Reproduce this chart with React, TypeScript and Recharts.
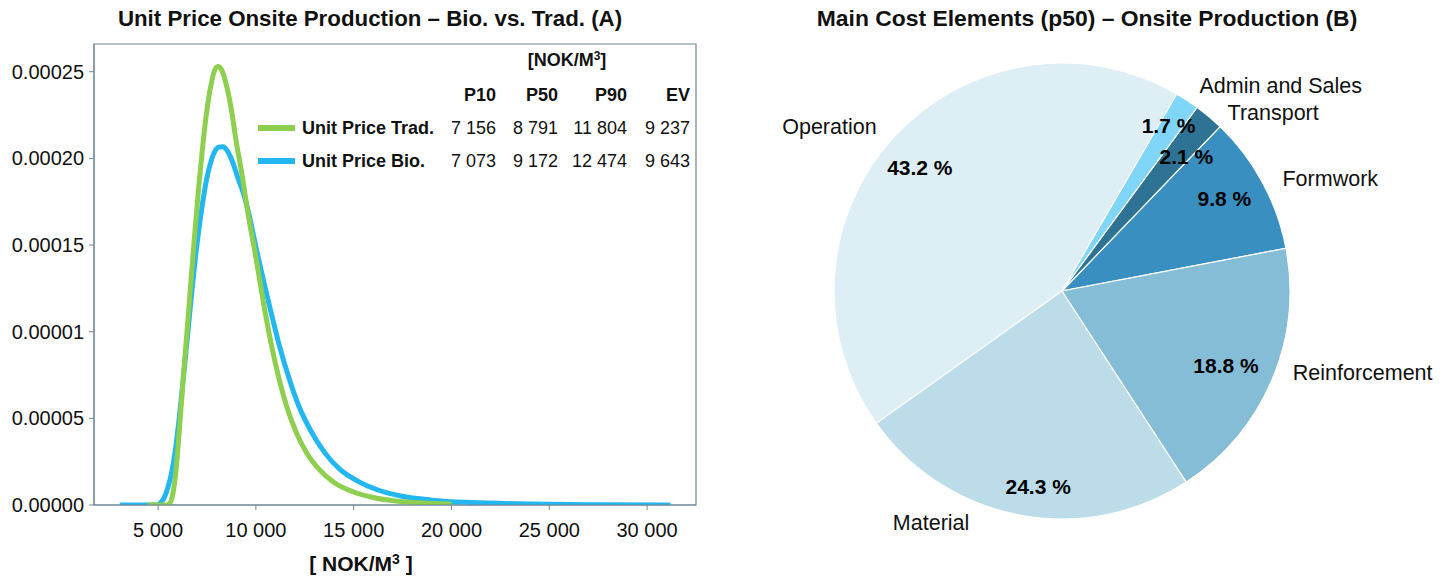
import React from "react";
import {
    LineChart,
    Line,
    XAxis,
    YAxis,
    ReferenceArea,
    PieChart,
    Pie,
    Cell,
} from "recharts";

// density curves
const tradX = [4457, 5400, 5600, 5750, 5900, 6100, 6300, 6500, 6700, 6900, 7100, 7300, 7500, 7700, 7900, 8070, 8250, 8500, 8750, 8977, 9300, 9600, 10000, 10400, 10800, 11200, 11600, 12100, 12600, 13200, 14000, 15000, 16000, 17250, 18500, 20000];
const tradY = [0, 0, 0.000001, 0.000006, 0.000018, 0.000045, 0.000075, 0.000103, 0.000132, 0.00016, 0.000186, 0.000209, 0.000228, 0.000242, 0.000251, 0.000253, 0.000251, 0.000242, 0.000228, 0.000211, 0.00019, 0.000168, 0.000143, 0.000116, 0.000092, 0.000072, 0.000056, 0.000041, 0.00003, 0.000021, 0.000013, 0.0000075, 0.0000043, 0.0000022, 0.0000012, 0.0000006];

const bioX = [3040, 4900, 5100, 5300, 5500, 5700, 5900, 6100, 6300, 6500, 6700, 6900, 7100, 7300, 7500, 7700, 7900, 8100, 8311, 8500, 8700, 8900, 9100, 9300, 9600, 10000, 10400, 10800, 11200, 11700, 12200, 12800, 13500, 14300, 15200, 16200, 17400, 19000, 21000, 24000, 27000, 31192];
const bioY = [0, 0, 0.000001, 0.000004, 0.00001, 0.000019, 0.000033, 0.000052, 0.000074, 0.000097, 0.00012, 0.000142, 0.00016, 0.000176, 0.000189, 0.000198, 0.000204, 0.0002065, 0.0002067, 0.000205, 0.000201, 0.000195, 0.000188, 0.000182, 0.00017, 0.000149, 0.000129, 0.00011, 0.000092, 0.000073, 0.000057, 0.000043, 0.0000305, 0.0000205, 0.0000138, 0.0000088, 0.0000052, 0.0000028, 0.0000014, 0.0000006, 0.0000002, 0];

const xTicks = [5000, 10000, 15000, 20000, 25000, 30000];
const yTicks = [0, 0.00005, 0.0001, 0.00015, 0.0002, 0.00025];
const yTickLabels = ["0.00000", "0.00005", "0.00001", "0.00015", "0.00020", "0.00025"];

const statHeaders = ["P10", "P50", "P90", "EV"];
const tradStats = ["7 156", "8 791", "11 804", "9 237"];
const bioStats = ["7 073", "9 172", "12 474", "9 643"];

// pie slices, counter-clockwise from Formwork
const costNames = ["Formwork", "Transport", "Admin and Sales", "Operation", "Material", "Reinforcement"];
const costShares = [9.8, 2.1, 1.7, 43.2, 24.3, 18.8];
const costColors = ["#388fc0", "#2f7394", "#7fd6f8", "#deeef5", "#bddcea", "#85bdd7"];

const FONT = "'Liberation Sans', Arial, sans-serif";
const FRAME = "#6e8696";

const tradData = tradX.map((x, i) => ({ x, y: tradY[i] }));
const bioData = bioX.map((x, i) => ({ x, y: bioY[i] }));
const pieData = costNames.map((name, i) => ({ name, value: costShares[i] }));

const fmtThousands = (v: number) =>
    String(v).replace(/\B(?=(\d{3})+(?!\d))/g, " ");

// small nudges so labels sit where the original put them
const nameNudge: Record<string, [number, number]> = {
    Operation: [0, 5],
    Material: [-46, -14],
    Reinforcement: [0, -16],
    Formwork: [0, 8],
    Transport: [4, 14],
    "Admin and Sales": [0, 5],
};
const pctNudge: Record<string, [number, number]> = {
    Operation: [-4, 2],
    Material: [11, 12],
    Reinforcement: [-8, 1],
    Formwork: [-2, -3],
    Transport: [4, 9],
    "Admin and Sales": [4, -9],
};

const RAD = Math.PI / 180;

function renderPieLabel(props: any) {
    const { cx, cy, midAngle, outerRadius, name, value } = props;
    const c = Math.cos(-midAngle * RAD);
    const s = Math.sin(-midAngle * RAD);
    const rIn = outerRadius * 0.82;
    const rOut = outerRadius * 1.1;
    const [dx, dy] = nameNudge[name] ?? [0, 0];
    const [px, py] = pctNudge[name] ?? [0, 0];
    return (
        <g>
            <text
                x={cx + rIn * c + px}
                y={cy + rIn * s + py}
                textAnchor="middle"
                dominantBaseline="central"
                fontFamily={FONT}
                fontSize={21}
                fontWeight="bold"
                fill="#000"
            >
                {value.toFixed(1)} %
            </text>
            <text
                x={cx + rOut * c + dx}
                y={cy + rOut * s + dy}
                textAnchor={c >= 0 ? "start" : "end"}
                dominantBaseline="central"
                fontFamily={FONT}
                fontSize={21.5}
                fill="#111"
            >
                {name}
            </text>
        </g>
    );
}

export default function App() {
    const colRight = [496, 558, 627, 690];

    return (
        <div
            style={{
                position: "absolute",
                left: 0,
                top: 0,
                width: 1447,
                height: 578,
                background: "#fff",
                fontFamily: FONT,
            }}
        >
            <div style={{ position: "absolute", left: 0, top: 0 }}>
                <LineChart
                    width={720}
                    height={578}
                    margin={{ top: 44, right: 24, bottom: 0, left: 0 }}
                >
                    <XAxis
                        dataKey="x"
                        type="number"
                        domain={[1725, 32500]}
                        ticks={xTicks}
                        allowDataOverflow
                        height={73}
                        tickSize={5}
                        axisLine={{ stroke: FRAME }}
                        tickLine={{ stroke: FRAME }}
                        tick={{ fill: "#111", fontSize: 20, fontFamily: FONT, dy: 11 }}
                        tickFormatter={(v) => fmtThousands(v)}
                    />
                    <YAxis
                        type="number"
                        domain={[0, 0.000266]}
                        ticks={yTicks}
                        allowDataOverflow
                        width={94}
                        tickSize={5}
                        tickMargin={5}
                        axisLine={{ stroke: FRAME }}
                        tickLine={{ stroke: FRAME }}
                        tick={{ fill: "#111", fontSize: 20, fontFamily: FONT }}
                        tickFormatter={(v) => yTickLabels[yTicks.indexOf(v)] ?? ""}
                    />
                    <ReferenceArea
                        x1={1725}
                        x2={32500}
                        y1={0}
                        y2={0.000266}
                        fill="none"
                        stroke={FRAME}
                        strokeWidth={1.2}
                        ifOverflow="visible"
                    />
                    <Line
                        data={bioData}
                        dataKey="y"
                        type="monotone"
                        stroke="#22b7f0"
                        strokeWidth={5}
                        dot={false}
                        isAnimationActive={false}
                    />
                    <Line
                        data={tradData}
                        dataKey="y"
                        type="monotone"
                        stroke="#8fcf4f"
                        strokeWidth={5}
                        dot={false}
                        isAnimationActive={false}
                    />
                </LineChart>
            </div>

            <div style={{ position: "absolute", left: 720, top: 0 }}>
                <PieChart width={727} height={578} margin={{ top: 0, right: 0, bottom: 0, left: 0 }}>
                    <Pie
                        data={pieData}
                        dataKey="value"
                        nameKey="name"
                        cx={342}
                        cy={291}
                        outerRadius={228}
                        startAngle={10.8}
                        endAngle={370.8}
                        stroke="#fff"
                        strokeWidth={1.2}
                        label={renderPieLabel}
                        labelLine={false}
                        isAnimationActive={false}
                    >
                        {pieData.map((d, i) => (
                            <Cell key={d.name} fill={costColors[i]} />
                        ))}
                    </Pie>
                </PieChart>
            </div>

            <svg
                width={1447}
                height={578}
                style={{ position: "absolute", left: 0, top: 0, pointerEvents: "none" }}
                fontFamily={FONT}
            >
                <text x={370} y={26} textAnchor="middle" fontSize={22.3} fontWeight="bold" fill="#111">
                    Unit Price Onsite Production – Bio. vs. Trad. (A)
                </text>
                <text x={1087} y={26} textAnchor="middle" fontSize={22.9} fontWeight="bold" fill="#111">
                    Main Cost Elements (p50) – Onsite Production (B)
                </text>
                <text x={361} y={571} textAnchor="middle" fontSize={21} fontWeight="bold" fill="#111">
                    [ NOK/M
                    <tspan fontSize={14} dy={-7}>3</tspan>
                    <tspan dy={7}> ]</tspan>
                </text>

                {/* legend table */}
                <text x={567} y={66} textAnchor="middle" fontSize={18} fontWeight="bold" fill="#111">
                    [NOK/M
                    <tspan fontSize={12} dy={-6}>3</tspan>
                    <tspan dy={6}>]</tspan>
                </text>
                {statHeaders.map((h, i) => (
                    <text key={h} x={colRight[i]} y={101} textAnchor="end" fontSize={18} fontWeight="bold" fill="#111">
                        {h}
                    </text>
                ))}
                <line x1={258} x2={295} y1={128} y2={128} stroke="#8fcf4f" strokeWidth={6} />
                <text x={302} y={134} fontSize={18} fontWeight="bold" fill="#111">Unit Price Trad.</text>
                {tradStats.map((v, i) => (
                    <text key={i} x={colRight[i]} y={134} textAnchor="end" fontSize={18} fill="#111">
                        {v}
                    </text>
                ))}
                <line x1={258} x2={295} y1={161} y2={161} stroke="#22b7f0" strokeWidth={6} />
                <text x={302} y={167} fontSize={18} fontWeight="bold" fill="#111">Unit Price Bio.</text>
                {bioStats.map((v, i) => (
                    <text key={i} x={colRight[i]} y={167} textAnchor="end" fontSize={18} fill="#111">
                        {v}
                    </text>
                ))}
            </svg>
        </div>
    );
}
